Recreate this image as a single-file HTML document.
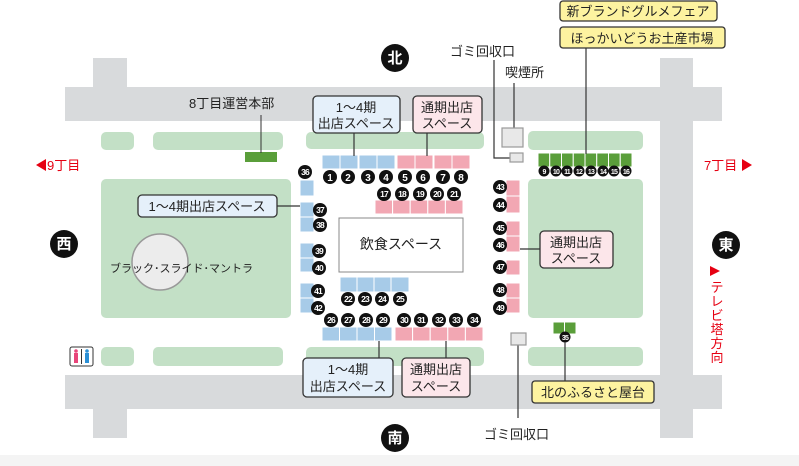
<!DOCTYPE html>
<html><head><meta charset="utf-8"><style>
body{margin:0;background:#fff}
svg{display:block}
text{font-family:"Liberation Sans","Noto Sans CJK JP",sans-serif;}
</style></head><body>
<svg width="799" height="466" viewBox="0 0 799 466" xmlns="http://www.w3.org/2000/svg">
<rect x="0" y="455" width="799" height="11" fill="#f4f4f4"/>
<!-- roads -->
<g fill="#d8dadc">
<rect x="65" y="87" width="657" height="34"/>
<rect x="93" y="58" width="34" height="30"/>
<rect x="65" y="375" width="657" height="34"/>
<rect x="93" y="408" width="34" height="30"/>
<rect x="660" y="58" width="33" height="380"/>
</g>
<!-- green areas -->
<g fill="#c3e0c6">
<rect x="101" y="132" width="33" height="18" rx="5"/>
<rect x="153" y="132" width="130" height="18" rx="5"/>
<rect x="306" y="132" width="178" height="17" rx="5"/>
<rect x="528" y="131" width="115" height="19" rx="5"/>
<rect x="101" y="347" width="33" height="19" rx="5"/>
<rect x="153" y="347" width="130" height="19" rx="5"/>
<rect x="306" y="347" width="178" height="19" rx="5"/>
<rect x="528" y="347" width="115" height="19" rx="5"/>
<rect x="101" y="179" width="190" height="139" rx="5"/>
<rect x="528" y="179" width="115" height="139" rx="5"/>
</g>
<circle cx="160" cy="262" r="28" fill="#ececec" stroke="#999" stroke-width="1.5"/>
<text x="110" y="272" font-size="11" fill="#222">ブラック･スライド･マントラ</text>
<!-- 8丁目 -->
<rect x="245" y="152" width="32" height="10" fill="#5a9e3a"/>
<line x1="261" y1="115" x2="261" y2="153" stroke="#333"/>
<text x="189" y="108" font-size="13" fill="#222">8丁目運営本部</text>
<!-- central box -->
<rect x="339" y="218" width="124" height="54" fill="#fff" stroke="#888"/>
<text x="401" y="249" font-size="14" fill="#222" text-anchor="middle">飲食スペース</text>
<!-- stalls -->
<g fill="#a7cbe8" stroke="#fff" stroke-width="1">
<rect x="322" y="155" width="18" height="14"/><rect x="340" y="155" width="18" height="14"/>
<rect x="359" y="155" width="18" height="14"/><rect x="377" y="155" width="18" height="14"/>
<rect x="340" y="277" width="17" height="15"/><rect x="357" y="277" width="17" height="15"/><rect x="374" y="277" width="17" height="15"/><rect x="391" y="277" width="18" height="15"/>
<rect x="322" y="327" width="17.5" height="14"/><rect x="339.5" y="327" width="17.5" height="14"/><rect x="357" y="327" width="17.5" height="14"/><rect x="374.5" y="327" width="17.5" height="14"/>
<rect x="300" y="180" width="14" height="16"/>
<rect x="300" y="202" width="14" height="15"/><rect x="300" y="217" width="14" height="15"/>
<rect x="300" y="243" width="14" height="15"/><rect x="300" y="258" width="14" height="14"/>
<rect x="300" y="283" width="14" height="15"/><rect x="300" y="298" width="14" height="15"/>
</g>
<g fill="#f2a7b3" stroke="#fff" stroke-width="1">
<rect x="397" y="155" width="18" height="14"/><rect x="415" y="155" width="18" height="14"/>
<rect x="434" y="155" width="18" height="14"/><rect x="452" y="155" width="18" height="14"/>
<rect x="375" y="200" width="17.6" height="14"/><rect x="392.6" y="200" width="17.6" height="14"/><rect x="410.2" y="200" width="17.6" height="14"/><rect x="427.8" y="200" width="17.6" height="14"/><rect x="445.4" y="200" width="17.6" height="14"/>
<rect x="395" y="327" width="17.6" height="14"/><rect x="412.6" y="327" width="17.6" height="14"/><rect x="430.2" y="327" width="17.6" height="14"/><rect x="447.8" y="327" width="17.6" height="14"/><rect x="465.4" y="327" width="17.6" height="14"/>
<rect x="506" y="180" width="14" height="16"/><rect x="506" y="196" width="14" height="17"/>
<rect x="506" y="221" width="14" height="15"/><rect x="506" y="236" width="14" height="16"/>
<rect x="506" y="260" width="14" height="15"/>
<rect x="506" y="283" width="14" height="15"/><rect x="506" y="298" width="14" height="15"/>
</g>
<g fill="#5a9e3a" stroke="#fff" stroke-width="1">
<rect x="538" y="153" width="11.75" height="14"/><rect x="549.75" y="153" width="11.75" height="14"/><rect x="561.5" y="153" width="11.75" height="14"/><rect x="573.25" y="153" width="11.75" height="14"/><rect x="585" y="153" width="11.75" height="14"/><rect x="596.75" y="153" width="11.75" height="14"/><rect x="608.5" y="153" width="11.75" height="14"/><rect x="620.25" y="153" width="11.75" height="14"/>
<rect x="553" y="322" width="11.5" height="12"/><rect x="564.5" y="322" width="11.5" height="12"/>
</g>
<!-- number circles -->
<g font-size="10" font-weight="bold" fill="#fff" text-anchor="middle">
<g fill="#111">
<circle cx="330" cy="177" r="7"/><circle cx="348" cy="177" r="7"/><circle cx="368" cy="177" r="7"/><circle cx="386" cy="177" r="7"/><circle cx="405" cy="177" r="7"/><circle cx="423" cy="177" r="7"/><circle cx="443" cy="177" r="7"/><circle cx="461" cy="177" r="7"/>
<circle cx="384" cy="194" r="7"/><circle cx="402" cy="194" r="7"/><circle cx="420" cy="194" r="7"/><circle cx="437" cy="194" r="7"/><circle cx="454" cy="194" r="7"/>
<circle cx="348" cy="299" r="7"/><circle cx="365" cy="299" r="7"/><circle cx="382" cy="299" r="7"/><circle cx="400" cy="299" r="7"/>
<circle cx="331" cy="320" r="7"/><circle cx="348" cy="320" r="7"/><circle cx="366" cy="320" r="7"/><circle cx="383" cy="320" r="7"/><circle cx="404" cy="320" r="7"/><circle cx="421" cy="320" r="7"/><circle cx="439" cy="320" r="7"/><circle cx="456" cy="320" r="7"/><circle cx="474" cy="320" r="7"/>
<circle cx="305" cy="172" r="7"/><circle cx="320" cy="210" r="7"/><circle cx="320" cy="225" r="7"/><circle cx="319" cy="251" r="7"/><circle cx="319" cy="268" r="7"/><circle cx="318" cy="291" r="7"/><circle cx="318" cy="308" r="7"/>
<circle cx="500" cy="187" r="7"/><circle cx="500" cy="205" r="7"/><circle cx="500" cy="228" r="7"/><circle cx="500" cy="245" r="7"/><circle cx="500" cy="267" r="7"/><circle cx="500" cy="290" r="7"/><circle cx="500" cy="308" r="7"/>
<circle cx="544" cy="171" r="5.5"/><circle cx="556" cy="171" r="5.5"/><circle cx="567" cy="171" r="5.5"/><circle cx="579" cy="171" r="5.5"/><circle cx="591" cy="171" r="5.5"/><circle cx="603" cy="171" r="5.5"/><circle cx="614" cy="171" r="5.5"/><circle cx="626" cy="171" r="5.5"/>
<circle cx="565" cy="337" r="5.5"/>
</g>
<text x="330" y="181">1</text><text x="348" y="181">2</text><text x="368" y="181">3</text><text x="386" y="181">4</text><text x="405" y="181">5</text><text x="423" y="181">6</text><text x="443" y="181">7</text><text x="461" y="181">8</text>
<g font-size="8.5" letter-spacing="-0.8">
<text x="384" y="197">17</text><text x="402" y="197">18</text><text x="420" y="197">19</text><text x="437" y="197">20</text><text x="454" y="197">21</text>
<text x="348" y="302">22</text><text x="365" y="302">23</text><text x="382" y="302">24</text><text x="400" y="302">25</text>
<text x="331" y="323">26</text><text x="348" y="323">27</text><text x="366" y="323">28</text><text x="383" y="323">29</text><text x="404" y="323">30</text><text x="421" y="323">31</text><text x="439" y="323">32</text><text x="456" y="323">33</text><text x="474" y="323">34</text>
<text x="305" y="175">36</text><text x="320" y="213">37</text><text x="320" y="228">38</text><text x="319" y="254">39</text><text x="319" y="271">40</text><text x="318" y="294">41</text><text x="318" y="311">42</text>
<text x="500" y="190">43</text><text x="500" y="208">44</text><text x="500" y="231">45</text><text x="500" y="248">46</text><text x="500" y="270">47</text><text x="500" y="293">48</text><text x="500" y="311">49</text>
</g>
<g font-size="7" letter-spacing="-0.8">
<text x="544" y="174">9</text><text x="556" y="174">10</text><text x="567" y="174">11</text><text x="579" y="174">12</text><text x="591" y="174">13</text><text x="603" y="174">14</text><text x="614" y="174">15</text><text x="626" y="174">16</text><text x="565" y="340">35</text>
</g>
</g>
<!-- connector lines -->
<g stroke="#333" stroke-width="1.2" fill="none">
<line x1="354" y1="133" x2="354" y2="156"/>
<line x1="427" y1="133" x2="427" y2="156"/>
<line x1="277" y1="206" x2="300" y2="206"/>
<line x1="379" y1="341" x2="379" y2="358"/>
<line x1="446" y1="341" x2="446" y2="358"/>
<line x1="520" y1="249" x2="540" y2="249"/>
<line x1="586" y1="48" x2="586" y2="154"/>
<line x1="565" y1="342" x2="565" y2="381"/>
<polyline points="494,60 494,158 510,158"/>
<line x1="514" y1="83" x2="514" y2="128"/>
<line x1="518" y1="345" x2="518" y2="418"/>
</g>
<g fill="#e8e8e8" stroke="#999" stroke-width="1.2">
<rect x="502" y="128" width="21" height="19"/>
<rect x="510" y="153" width="13" height="9"/>
<rect x="511" y="333" width="15" height="12"/>
</g>
<text x="450" y="56" font-size="13" fill="#222">ゴミ回収口</text>
<text x="505" y="77" font-size="13" fill="#222">喫煙所</text>
<text x="484" y="439" font-size="13" fill="#222">ゴミ回収口</text>
<!-- label boxes -->
<g stroke="#333" stroke-width="1.3">
<rect x="313" y="96" width="87" height="37" rx="4" fill="#e5f0fa"/>
<rect x="413" y="96" width="69" height="37" rx="4" fill="#fce6ea"/>
<rect x="138" y="195" width="139" height="22" rx="4" fill="#e5f0fa"/>
<rect x="303" y="358" width="90" height="39" rx="4" fill="#e5f0fa"/>
<rect x="402" y="358" width="68" height="39" rx="4" fill="#fce6ea"/>
<rect x="540" y="231" width="73" height="37" rx="4" fill="#fce6ea"/>
<rect x="560" y="1" width="157" height="20" rx="3" fill="#fdf3a0"/>
<rect x="560" y="27" width="165" height="21" rx="3" fill="#fdf3a0"/>
<rect x="532" y="381" width="122" height="22" rx="3" fill="#fdf3a0"/>
</g>
<g font-size="13" fill="#222" text-anchor="middle">
<text x="356" y="112">1〜4期</text><text x="356" y="128">出店スペース</text>
<text x="447" y="112">通期出店</text><text x="447" y="128">スペース</text>
<text x="207" y="211">1〜4期出店スペース</text>
<text x="348" y="374">1〜4期</text><text x="348" y="391">出店スペース</text>
<text x="436" y="374">通期出店</text><text x="436" y="391">スペース</text>
<text x="576" y="247">通期出店</text><text x="576" y="263">スペース</text>
<text x="638" y="16">新ブランドグルメフェア</text>
<text x="642" y="43">ほっかいどうお土産市場</text>
<text x="593" y="397">北のふるさと屋台</text>
</g>
<!-- compass -->
<g fill="#111">
<circle cx="395" cy="58" r="14"/><circle cx="64" cy="244" r="14"/><circle cx="726" cy="245" r="14"/><circle cx="395" cy="438" r="14"/>
</g>
<g fill="#fff" font-size="15" font-weight="bold" text-anchor="middle">
<text x="395" y="63">北</text><text x="64" y="249">西</text><text x="726" y="250">東</text><text x="395" y="443">南</text>
</g>
<!-- directions -->
<g fill="#e60012" font-size="13">
<polygon points="36,165 46,159 46,171"/>
<text x="47" y="170">9丁目</text>
<text x="704" y="170">7丁目</text>
<polygon points="752,165 742,159 742,171"/>
<polygon points="710,266 720,271 710,276"/>
<g text-anchor="middle"><text x="717" y="292">テ</text><text x="717" y="306">レ</text><text x="717" y="320">ビ</text><text x="717" y="334">塔</text><text x="717" y="348">方</text><text x="717" y="362">向</text></g>
</g>
<!-- toilet -->
<rect x="70" y="347" width="23" height="19" rx="2" fill="#fff" stroke="#333"/>
<circle cx="76" cy="351" r="1.8" fill="#e8457a"/><rect x="74" y="353" width="4" height="10" fill="#e8457a"/>
<line x1="81.5" y1="349" x2="81.5" y2="364" stroke="#333"/>
<circle cx="87" cy="351" r="1.8" fill="#2a8fd6"/><rect x="85" y="353" width="4" height="10" fill="#2a8fd6"/>
</svg>
</body></html>
